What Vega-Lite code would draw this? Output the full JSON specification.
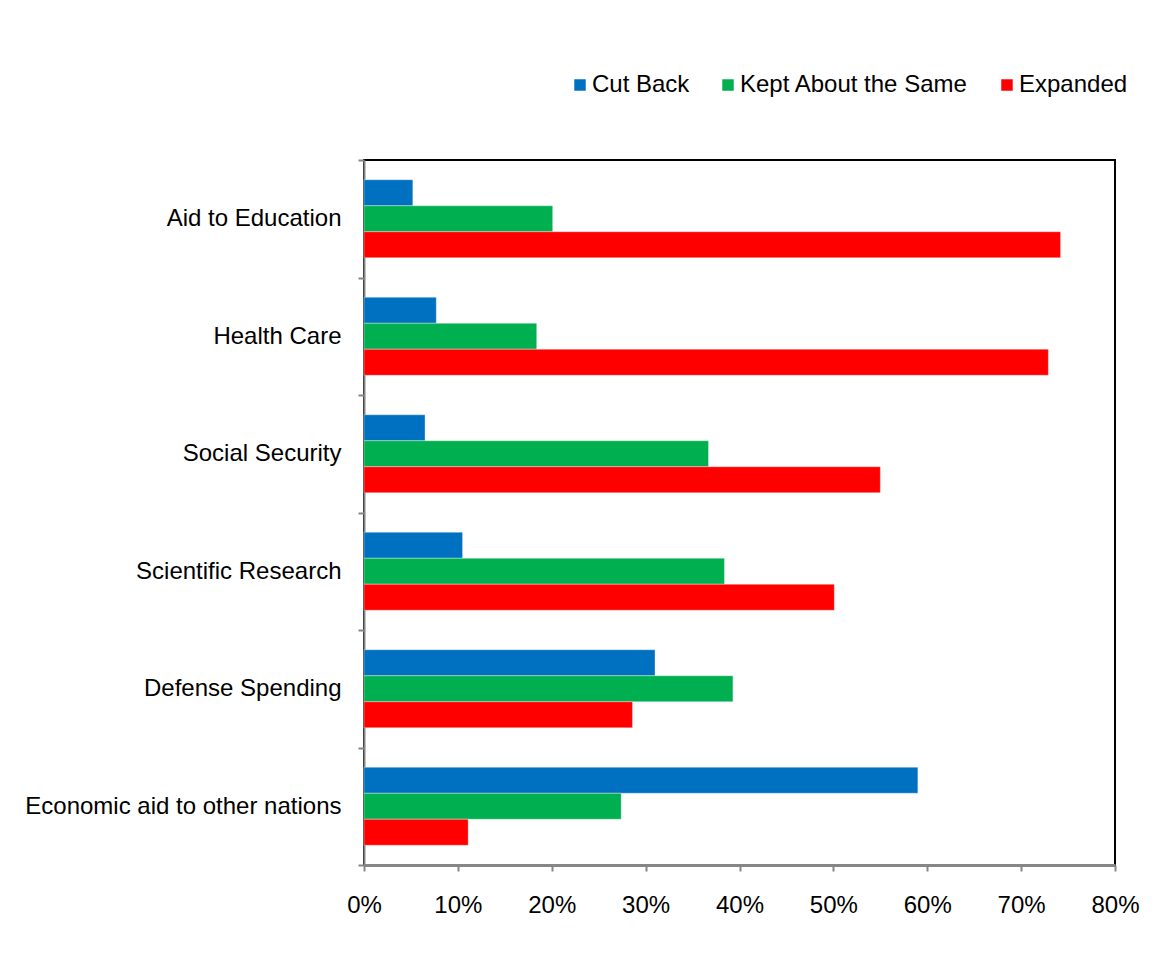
{
  "$schema": "https://vega.github.io/schema/vega-lite/v6.json",
  "autosize": {"type": "none"},
  "padding": {"left": 364, "top": 160, "right": 41, "bottom": 94},
  "width": 751,
  "height": 705,
  "background": "white",
  "config": {
    "font": "Liberation Sans",
    "view": {"stroke": "black", "strokeWidth": 2},
    "axis": {"grid": false, "domainColor": "#868686", "tickColor": "#868686", "labelColor": "black", "labelFont": "Liberation Sans", "labelFontSize": 24, "title": null}
  },
  "data": {
    "values": [
      {"category": "Aid to Education", "response": "Cut Back", "share": 0.052},
      {"category": "Aid to Education", "response": "Kept About the Same", "share": 0.201},
      {"category": "Aid to Education", "response": "Expanded", "share": 0.742},
      {"category": "Health Care\u00a0", "response": "Cut Back", "share": 0.077},
      {"category": "Health Care\u00a0", "response": "Kept About the Same", "share": 0.184},
      {"category": "Health Care\u00a0", "response": "Expanded", "share": 0.729},
      {"category": "Social Security", "response": "Cut Back", "share": 0.065},
      {"category": "Social Security", "response": "Kept About the Same", "share": 0.367},
      {"category": "Social Security", "response": "Expanded", "share": 0.550},
      {"category": "Scientific Research", "response": "Cut Back", "share": 0.105},
      {"category": "Scientific Research", "response": "Kept About the Same", "share": 0.384},
      {"category": "Scientific Research", "response": "Expanded", "share": 0.501},
      {"category": "Defense Spending", "response": "Cut Back", "share": 0.310},
      {"category": "Defense Spending", "response": "Kept About the Same", "share": 0.393},
      {"category": "Defense Spending", "response": "Expanded", "share": 0.286},
      {"category": "Economic aid to other nations", "response": "Cut Back", "share": 0.590},
      {"category": "Economic aid to other nations", "response": "Kept About the Same", "share": 0.274},
      {"category": "Economic aid to other nations", "response": "Expanded", "share": 0.111}
    ]
  },
  "mark": {"type": "bar", "strokeWidth": 1, "strokeOpacity": 0.35, "stroke": "white"},
  "encoding": {
    "y": {
      "field": "category",
      "type": "nominal",
      "sort": null,
      "scale": {"paddingInner": 0, "paddingOuter": 0},
      "axis": {"tickBand": "extent", "tickSize": 6, "tickWidth": 2, "domainWidth": 2, "labelPadding": 17, "labelLimit": 400}
    },
    "yOffset": {
      "field": "response",
      "type": "nominal",
      "sort": ["Cut Back", "Kept About the Same", "Expanded"],
      "scale": {"paddingInner": 0, "paddingOuter": 0.76}
    },
    "x": {
      "field": "share",
      "type": "quantitative",
      "scale": {"domain": [0, 0.8], "nice": false},
      "axis": {"values": [0, 0.1, 0.2, 0.3, 0.4, 0.5, 0.6, 0.7, 0.8], "format": ".0%", "tickSize": 6, "tickWidth": 2, "domainWidth": 3, "labelPadding": 22, "labelFlush": false}
    },
    "color": {
      "field": "response",
      "type": "nominal",
      "sort": ["Cut Back", "Kept About the Same", "Expanded"],
      "scale": {"domain": ["Cut Back", "Kept About the Same", "Expanded"], "range": ["#0070C0", "#00B050", "#FF0000"]},
      "legend": {
        "title": null,
        "orient": "none",
        "direction": "horizontal",
        "legendX": 204,
        "legendY": -87,
        "padding": 0,
        "symbolType": "square",
        "symbolSize": 132,
        "symbolStrokeWidth": 0,
        "symbolOpacity": 1,
        "labelFont": "Liberation Sans",
        "labelFontSize": 24,
        "labelColor": "black",
        "labelOffset": 0,
        "columnPadding": 26,
        "labelLimit": 400
      }
    }
  }
}
